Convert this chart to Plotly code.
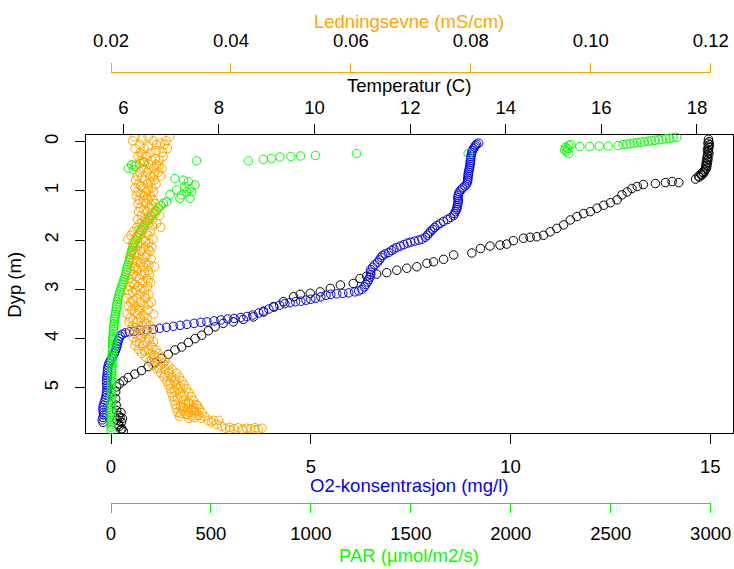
import plotly.graph_objects as go

# ---------------- data ----------------
# Temperature profile (C) vs depth (m)
temp_depth = [-0.05, 0.00, 0.03, 0.06, 0.09, 0.12, 0.15, 0.18, 0.21, 0.24,
              0.27, 0.30, 0.33, 0.36, 0.39, 0.42, 0.45, 0.48, 0.51, 0.54,
              0.57, 0.60, 0.62, 0.64, 0.66, 0.68, 0.70, 0.72,
              0.76, 0.83, 0.81, 0.83, 0.85, 0.87,
              0.91, 0.95, 1.02, 1.08, 1.18, 1.24, 1.29, 1.35, 1.42, 1.46,
              1.52, 1.59, 1.69, 1.76, 1.83, 1.90, 1.93, 1.94, 1.96, 2.01,
              2.08, 2.10, 2.12, 2.17, 2.26, 2.30, 2.39, 2.44, 2.47, 2.54,
              2.57, 2.61, 2.66, 2.69, 2.73, 2.78, 2.88, 2.91, 2.98, 3.05,
              3.08, 3.10, 3.15,
              3.25, 3.35, 3.46, 3.56, 3.61, 3.66, 3.69, 3.76, 3.84, 3.93,
              4.00, 4.08, 4.17, 4.23, 4.32, 4.40, 4.49, 4.57, 4.65, 4.72,
              4.79, 4.86, 4.92, 4.98, 5.08, 5.22, 5.35, 5.46, 5.50, 5.56,
              5.60, 5.62, 5.66, 5.70, 5.74, 5.78, 5.83, 5.85, 5.88]
temp_value = [18.24, 18.25, 18.23, 18.26, 18.24, 18.25, 18.22, 18.24, 18.23, 18.25,
              18.22, 18.23, 18.21, 18.23, 18.20, 18.22, 18.19, 18.21, 18.18, 18.20,
              18.17, 18.16, 18.12, 18.14, 18.08, 18.10, 18.03, 18.05,
              17.97, 17.62, 17.48, 17.34, 17.13, 16.88,
              16.75, 16.64, 16.54, 16.43, 16.33, 16.19, 16.05, 15.91, 15.77, 15.63,
              15.49, 15.35, 15.21, 15.07, 14.93, 14.79, 14.65, 14.51, 14.37, 14.16,
              14.02, 13.88, 13.67, 13.47, 13.29, 12.91, 12.70, 12.49, 12.35, 12.14,
              11.93, 11.72, 11.51, 11.30, 11.09, 10.95, 10.81, 10.54, 10.33, 10.12,
              9.91, 9.70, 9.56,
              9.35, 9.14, 8.93, 8.72, 8.51, 8.30, 8.09, 7.92, 7.78, 7.64,
              7.50, 7.36, 7.22, 7.08, 6.94, 6.80, 6.66, 6.52, 6.38, 6.24,
              6.10, 6.00, 5.92, 5.86, 5.84, 5.84, 5.85, 5.86, 5.95, 5.90,
              5.93, 5.98, 5.87, 5.96, 5.90, 5.92, 5.97, 5.95, 6.00]

# O2 concentration (mg/l) vs depth (m)
o2_depth = [0.03, 0.05, 0.08, 0.11, 0.14, 0.18, 0.22, 0.26, 0.30, 0.34,
            0.38, 0.42, 0.46, 0.50, 0.54, 0.58, 0.62, 0.66, 0.70, 0.74,
            0.78, 0.82, 0.86, 0.90, 0.94, 0.98, 1.02, 1.06, 1.10, 1.14,
            1.18, 1.22, 1.26, 1.30, 1.34, 1.38, 1.42, 1.46, 1.50, 1.54,
            1.58, 1.62, 1.66, 1.70, 1.74, 1.78, 1.82, 1.86, 1.90, 1.94,
            1.98, 2.00, 2.02, 2.04, 2.06, 2.09, 2.12, 2.15, 2.18, 2.21,
            2.25, 2.28, 2.31, 2.35, 2.40, 2.45, 2.50, 2.55, 2.60, 2.65,
            2.70, 2.75, 2.80, 2.85, 2.90, 2.95, 3.00, 3.03, 3.05, 3.07,
            3.08, 3.09, 3.10, 3.12, 3.15, 3.18, 3.20, 3.22, 3.24, 3.25,
            3.27, 3.29, 3.32, 3.36, 3.40, 3.44, 3.48, 3.52, 3.55, 3.57,
            3.59, 3.60, 3.62, 3.64, 3.66, 3.67, 3.69, 3.71, 3.73, 3.75,
            3.77, 3.79, 3.81, 3.82, 3.83, 3.85, 3.86, 3.88, 3.91, 3.95,
            4.00, 4.05, 4.10, 4.15, 4.20, 4.25, 4.30, 4.35, 4.40, 4.45,
            4.50, 4.55, 4.60, 4.65, 4.70, 4.75, 4.80, 4.85, 4.90, 4.95,
            5.00, 5.05, 5.10, 5.15, 5.20, 5.25, 5.30, 5.35, 5.40, 5.45,
            5.50, 5.55, 5.60, 5.65, 5.70]
o2_value = [9.20, 9.15, 9.12, 9.10, 9.07, 9.05, 9.03, 9.02, 9.01, 9.00,
            9.00, 8.99, 8.99, 8.98, 8.97, 8.96, 8.95, 8.94, 8.94, 8.93,
            8.93, 8.92, 8.90, 8.86, 8.80, 8.76, 8.72, 8.70, 8.69, 8.68,
            8.69, 8.69, 8.68, 8.67, 8.66, 8.65, 8.62, 8.60, 8.57, 8.50,
            8.42, 8.32, 8.24, 8.16, 8.10, 8.05, 8.00, 7.96, 7.92, 7.87,
            7.78, 7.70, 7.60, 7.50, 7.42, 7.33, 7.24, 7.15, 7.08, 7.02,
            6.95, 6.86, 6.80, 6.76, 6.72, 6.67, 6.60, 6.55, 6.50, 6.50,
            6.50, 6.48, 6.45, 6.42, 6.38, 6.34, 6.28, 6.20, 6.10, 5.95,
            5.80, 5.65, 5.50, 5.38, 5.25, 5.12, 5.00, 4.88, 4.75, 4.62,
            4.48, 4.35, 4.22, 4.08, 3.95, 3.82, 3.70, 3.55, 3.40, 3.25,
            3.08, 2.92, 2.75, 2.58, 2.40, 2.25, 2.08, 1.90, 1.73, 1.56,
            1.39, 1.22, 1.06, 0.90, 0.73, 0.58, 0.46, 0.36, 0.28, 0.23,
            0.20, 0.18, 0.16, 0.15, 0.13, 0.11, 0.08, 0.05, 0.02, -0.02,
            -0.05, -0.07, -0.08, -0.09, -0.09, -0.10, -0.10, -0.11, -0.11, -0.10,
            -0.10, -0.10, -0.11, -0.12, -0.13, -0.15, -0.17, -0.19, -0.20, -0.20,
            -0.19, -0.18, -0.20, -0.22, -0.20]

# PAR (umol/m2/s) vs depth (m)
par_depth = [0.24, 0.20, 0.17, 0.14, 0.11, 0.08, 0.06, 0.10, 0.10, 0.09,
             0.09, 0.08,
             0.06, 0.05, 0.04, 0.03, 0.02, 0.01, 0.00, -0.01, -0.02, -0.03,
             -0.04, -0.05, -0.06, -0.07, -0.08, -0.09,
             0.39, 0.39, 0.36, 0.34, 0.31, 0.30, 0.29, 0.28, 0.24, 0.24,
             0.54, 0.47, 0.50, 0.44, 0.57, 0.41,
             0.75, 0.78, 0.81, 0.88, 0.95, 1.02, 1.15, 1.08, 0.98, 1.15,
             1.08, 1.22, 0.91, 1.02,
             1.25, 1.30, 1.35, 1.40, 1.45, 1.50, 1.55, 1.60, 1.65, 1.70,
             1.75, 1.80, 1.85, 1.90, 1.95, 2.00, 2.05, 2.10, 2.15,
             2.20, 2.25, 2.30, 2.35, 2.40, 2.45, 2.50, 2.55, 2.60, 2.65,
             2.70, 2.75, 2.80, 2.85, 2.90, 2.95, 3.00, 3.05, 3.10, 3.15,
             3.20, 3.25, 3.30, 3.35, 3.40, 3.45, 3.50, 3.55, 3.60, 3.65,
             3.70, 3.75, 3.80, 3.85, 3.90, 3.95, 4.00, 4.05, 4.10, 4.15,
             4.20, 4.25, 4.30, 4.35, 4.40, 4.45, 4.50, 4.55, 4.60, 4.65,
             4.70, 4.75, 4.80, 4.85, 4.90, 4.95, 5.00, 5.05, 5.10, 5.15,
             5.20, 5.25, 5.30, 5.35, 5.40, 5.45, 5.50, 5.55, 5.60, 5.65,
             5.70, 5.75, 5.80, 5.85]
par_value = [2290, 2280, 2270, 2285, 2275, 2290, 2300, 2345, 2395, 2442,
             2487, 2537,
             2562, 2580, 2598, 2615, 2632, 2650, 2668, 2686, 2704, 2722,
             2740, 2758, 2776, 2794, 2812, 2830,
             428, 687, 762, 803, 845, 900, 948, 1023, 1228, 1787,
             87, 103, 120, 145, 112, 162,
             320, 362, 387, 420, 395, 378, 395, 353, 328, 345,
             295, 278, 370, 403,
             262, 250, 238, 226, 214, 203, 193, 184, 175, 166,
             158, 150, 143, 136, 130, 124, 118, 113, 109,
             106, 102, 99, 95, 92, 88, 85, 82, 79, 76,
             73, 69, 65, 61, 57, 53, 49, 44, 41, 38,
             35, 32, 30, 28, 26, 24, 22, 20, 18, 17,
             15, 14, 13, 12, 11, 10.5, 10, 9, 8.5, 8,
             7.5, 7, 6.5, 6, 5.5, 5, 4.8, 4.5, 4.2, 4,
             3.8, 3.5, 3.3, 3.1, 3, 2.8, 2.6, 2.5, 2.3, 2.2,
             2, 1.9, 1.8, 1.7, 1.6, 1.5, 1.4, 1.3, 1.2, 1.2,
             1.1, 1.0, 1.0, 0.9]

# Conductivity (mS/cm) vs depth (m): three readings per depth level
cond_depth = [-0.10, -0.02, 0.06, 0.14, 0.22, 0.30, 0.38, 0.46, 0.54, 0.62,
              0.70, 0.78, 0.86, 0.94, 1.02, 1.10, 1.18, 1.26, 1.34, 1.42,
              1.50, 1.58, 1.66, 1.74, 1.82, 1.90, 1.98, 2.06, 2.14, 2.22,
              2.30, 2.38, 2.46, 2.54, 2.62, 2.70, 2.78, 2.86, 2.94, 3.02,
              3.10, 3.18, 3.26, 3.34, 3.42, 3.50, 3.58, 3.66, 3.74, 3.82,
              3.90, 3.98, 4.06, 4.14, 4.22, 4.30, 4.38, 4.46, 4.54, 4.62,
              4.70, 4.78, 4.86, 4.94, 5.02, 5.10, 5.18, 5.26, 5.34, 5.42,
              5.50, 5.58, 5.66]
cond_a = [0.0240, 0.0236, 0.0248, 0.0240, 0.0249, 0.0245, 0.0251, 0.0243, 0.0254, 0.0248,
          0.0244, 0.0241, 0.0246, 0.0240, 0.0244, 0.0242, 0.0247, 0.0245, 0.0249, 0.0246,
          0.0251, 0.0244, 0.0248, 0.0243, 0.0237, 0.0233, 0.0228, 0.0236, 0.0241, 0.0234,
          0.0239, 0.0231, 0.0236, 0.0240, 0.0233, 0.0237, 0.0230, 0.0235, 0.0232, 0.0228,
          0.0231, 0.0226, 0.0233, 0.0229, 0.0235, 0.0227, 0.0232, 0.0230, 0.0236, 0.0233,
          0.0239, 0.0237, 0.0242, 0.0240, 0.0246, 0.0251, 0.0258, 0.0264, 0.0270, 0.0277,
          0.0283, 0.0288, 0.0293, 0.0296, 0.0299, 0.0301, 0.0303, 0.0305, 0.0307, 0.0309,
          0.0311, 0.0314, 0.0362]
cond_b = [0.0262, 0.0270, 0.0276, 0.0255, 0.0266, 0.0259, 0.0268, 0.0263, 0.0271, 0.0260,
          0.0266, 0.0257, 0.0261, 0.0253, 0.0259, 0.0255, 0.0262, 0.0258, 0.0264, 0.0260,
          0.0266, 0.0257, 0.0262, 0.0255, 0.0252, 0.0249, 0.0254, 0.0248, 0.0257, 0.0250,
          0.0246, 0.0252, 0.0249, 0.0255, 0.0244, 0.0251, 0.0247, 0.0253, 0.0245, 0.0241,
          0.0248, 0.0243, 0.0250, 0.0239, 0.0246, 0.0244, 0.0249, 0.0242, 0.0251, 0.0247,
          0.0254, 0.0250, 0.0258, 0.0253, 0.0262, 0.0266, 0.0272, 0.0277, 0.0283, 0.0290,
          0.0296, 0.0301, 0.0305, 0.0309, 0.0312, 0.0315, 0.0318, 0.0321, 0.0324, 0.0328,
          0.0331, 0.0335, 0.0371]
cond_c = [0.0298, 0.0292, 0.0289, 0.0294, 0.0286, 0.0287, 0.0280, 0.0276, 0.0285, 0.0279,
          0.0283, 0.0272, 0.0275, 0.0268, 0.0271, 0.0266, 0.0270, 0.0274, 0.0278, 0.0272,
          0.0281, 0.0269, 0.0276, 0.0283, 0.0266, 0.0262, 0.0270, 0.0263, 0.0268, 0.0265,
          0.0260, 0.0267, 0.0258, 0.0273, 0.0262, 0.0264, 0.0259, 0.0266, 0.0261, 0.0256,
          0.0263, 0.0258, 0.0267, 0.0255, 0.0262, 0.0271, 0.0260, 0.0257, 0.0265, 0.0261,
          0.0268, 0.0264, 0.0271, 0.0267, 0.0275, 0.0279, 0.0285, 0.0290, 0.0296, 0.0302,
          0.0309, 0.0314, 0.0318, 0.0322, 0.0326, 0.0330, 0.0334, 0.0338, 0.0342, 0.0347,
          0.0352, 0.0356, 0.0380]
# intermediate conductivity readings (between the levels above)
cond_mid_depth = [-0.06, 0.02, 0.10, 0.18, 0.26, 0.34, 0.42, 0.50, 0.58, 0.66,
                  0.74, 0.82, 0.90, 0.98, 1.06, 1.14, 1.22, 1.30, 1.38, 1.46,
                  1.54, 1.62, 1.70, 1.78, 1.86, 1.94, 2.02, 2.10, 2.18, 2.26,
                  2.34, 2.42, 2.50, 2.58, 2.66, 2.74, 2.82, 2.90, 2.98, 3.06,
                  3.14, 3.22, 3.30, 3.38, 3.46, 3.54, 3.62, 3.70, 3.78, 3.86,
                  3.94, 4.02, 4.10, 4.18, 4.26, 4.34, 4.42, 4.50, 4.58, 4.66,
                  4.74, 4.82, 4.90, 4.98, 5.06, 5.14, 5.22, 5.30, 5.38, 5.46,
                  5.54, 5.62]
cond_mid_value = [0.0252, 0.0283, 0.0262, 0.0275, 0.0252, 0.0274, 0.0256, 0.0280, 0.0263, 0.0272,
                  0.0251, 0.0266, 0.0250, 0.0262, 0.0249, 0.0260, 0.0254, 0.0268, 0.0255, 0.0274,
                  0.0262, 0.0252, 0.0269, 0.0247, 0.0259, 0.0242, 0.0258, 0.0244, 0.0262, 0.0241,
                  0.0257, 0.0243, 0.0263, 0.0238, 0.0256, 0.0242, 0.0262, 0.0239, 0.0251, 0.0236,
                  0.0256, 0.0236, 0.0262, 0.0247, 0.0240, 0.0255, 0.0237, 0.0259, 0.0242, 0.0256,
                  0.0245, 0.0263, 0.0247, 0.0270, 0.0256, 0.0272, 0.0268, 0.0287, 0.0279, 0.0297,
                  0.0290, 0.0308, 0.0299, 0.0316, 0.0306, 0.0322, 0.0311, 0.0330, 0.0320, 0.0339,
                  0.0327, 0.0350]
# extra conductivity readings near the bottom
cond_extra_depth = [5.70, 5.74, 5.78, 5.82, 5.80, 5.83, 5.81, 5.84, 5.82, 5.83,
                    5.81, 5.84, 5.82, 5.85, 5.86, 5.85,
                    5.38, 5.46, 5.54, 5.62, 5.40, 5.48, 5.56, 5.30, 5.44, 5.60,
                    5.52, 5.36]
cond_extra_value = [0.0368, 0.0376, 0.0384, 0.0391, 0.0398, 0.0405, 0.0412, 0.0419, 0.0426, 0.0433,
                    0.0440, 0.0446, 0.0452, 0.0398, 0.0420, 0.0440,
                    0.0316, 0.0320, 0.0324, 0.0330, 0.0338, 0.0342, 0.0346, 0.0329, 0.0335, 0.0340,
                    0.0316, 0.0344]

# tick definitions
temp_ticks = [6, 8, 10, 12, 14, 16, 18]
o2_ticks = [0, 5, 10, 15]
cond_ticks = [0.02, 0.04, 0.06, 0.08, 0.10, 0.12]
cond_tick_labels = ["0.02", "0.04", "0.06", "0.08", "0.10", "0.12"]
par_ticks = [0, 500, 1000, 1500, 2000, 2500, 3000]
depth_ticks = [0, 1, 2, 3, 4, 5]

# ---------------- figure ----------------
W, H = 734, 569
FONT = "Liberation Sans, Arial, sans-serif"
FS = 18.5
ORANGE = "#FFA500"
GREEN = "#00FF00"
BLUE = "#0000FF"

BOX_L, BOX_R, BOX_T, BOX_B = 86.0, 733.3, 135.0, 433.3
AX_L, AX_R = 111.0, 710.7          # extent of the extra axes (conductivity, PAR)
X_DOM = [BOX_L / W, BOX_R / W]
Y_DOM = [1 - BOX_B / H, 1 - BOX_T / H]
EXTRA_DOM = [AX_L / W, AX_R / W]

cond_depth_all = cond_depth + cond_depth + cond_depth + cond_mid_depth + cond_extra_depth
cond_all = cond_a + cond_b + cond_c + cond_mid_value + cond_extra_value


def mk(color):
    return dict(symbol="circle-open", size=8.5, color=color, line=dict(width=1, color=color))


fig = go.Figure()
fig.add_trace(go.Scatter(x=temp_value, y=temp_depth, xaxis="x", yaxis="y",
                         mode="markers", marker=mk("black"), hoverinfo="skip",
                         name="Temperatur"))
fig.add_trace(go.Scatter(x=o2_value, y=o2_depth, xaxis="x2", yaxis="y",
                         mode="markers", marker=mk(BLUE), hoverinfo="skip",
                         name="O2"))
fig.add_trace(go.Scatter(x=par_value, y=par_depth, xaxis="x3", yaxis="y",
                         mode="markers", marker=mk(GREEN), hoverinfo="skip",
                         cliponaxis=False, name="PAR"))
fig.add_trace(go.Scatter(x=cond_all, y=cond_depth_all, xaxis="x4", yaxis="y",
                         mode="markers", marker=mk(ORANGE), hoverinfo="skip",
                         name="Ledningsevne"))

tickfont = dict(family=FONT, size=FS, color="black")
common = dict(showgrid=False, zeroline=False, ticks="outside", tickwidth=1,
              tickfont=tickfont, fixedrange=True, automargin=False)

fig.update_layout(
    width=W, height=H, autosize=False,
    margin=dict(l=0, r=0, t=0, b=0, pad=0, autoexpand=False),
    paper_bgcolor="white", plot_bgcolor="rgba(0,0,0,0)",
    showlegend=False,
    font=dict(family=FONT, size=FS, color="black"),
    xaxis=dict(domain=X_DOM, range=[5.219, 18.760], side="top", anchor="y",
               tickmode="array", tickvals=temp_ticks, ticklen=10, tickcolor="black",
               showline=True, mirror=True, linecolor="black", linewidth=1,
               ticklabelstandoff=3, **common),
    xaxis2=dict(overlaying="x", range=[-0.626, 15.576], side="bottom", anchor="y",
                tickmode="array", tickvals=o2_ticks, ticklen=10, tickcolor="black",
                showline=False, ticklabelstandoff=6, **common),
    xaxis3=dict(domain=EXTRA_DOM, range=[0, 3000], anchor="free",
                position=1 - 503.3 / H, side="bottom",
                tickmode="array", tickvals=par_ticks, ticklen=9, tickcolor=GREEN,
                showline=True, linecolor=GREEN, linewidth=1,
                ticklabelstandoff=4, **common),
    xaxis4=dict(domain=EXTRA_DOM, range=[0.02, 0.12], anchor="free",
                position=1 - 71.7 / H, side="top",
                tickmode="array", tickvals=cond_ticks, ticktext=cond_tick_labels,
                ticklen=9, tickcolor=ORANGE,
                showline=True, linecolor=ORANGE, linewidth=1,
                ticklabelstandoff=8, **common),
    yaxis=dict(domain=Y_DOM, range=[5.923, -0.136], anchor="x", side="left",
               tickmode="array", tickvals=depth_ticks, ticklen=10, tickcolor="black",
               tickangle=-90, showline=True, mirror=True, linecolor="black",
               linewidth=1, ticklabelstandoff=10, **common),
)

CX = 409.0 / W
titles = [
    ("Ledningsevne (mS/cm)", CX, 1 - 21.2 / H, ORANGE, 0),
    ("Temperatur (C)", CX, 1 - 85.5 / H, "black", 0),
    ("O2-konsentrasjon (mg/l)", CX, 1 - 485.8 / H, BLUE, 0),
    ("PAR (µmol/m2/s)", CX, 1 - 555.2 / H, GREEN, 0),
    ("Dyp (m)", 14.3 / W, 1 - 284.4 / H, "black", -90),
]
for text, x, y, color, ang in titles:
    fig.add_annotation(text=text, x=x, y=y, xref="paper", yref="paper",
                       xanchor="center", yanchor="middle", showarrow=False,
                       textangle=ang, font=dict(family=FONT, size=FS, color=color))

fig.write_html("out.html", include_plotlyjs=True, config={"displayModeBar": False})
